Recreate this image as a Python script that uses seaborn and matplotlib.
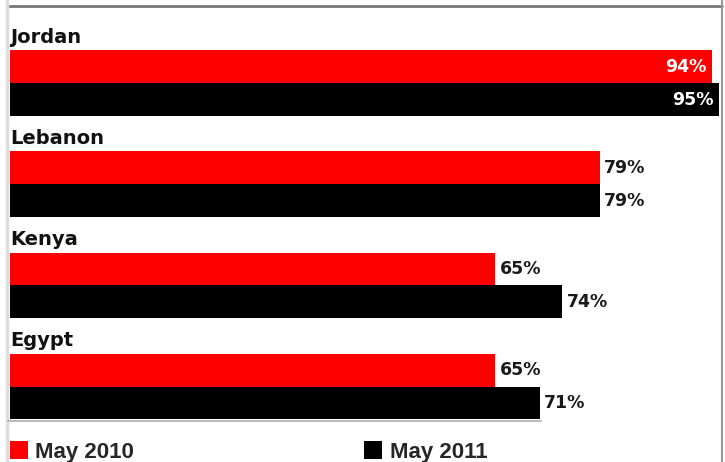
import pandas as pd
import matplotlib.pyplot as plt
import matplotlib.lines as mlines
import seaborn as sns

# Dados
paises = ['Jordan', 'Lebanon', 'Kenya', 'Egypt']
anos = ['May 2010', 'May 2011']
maio_2010 = [94, 79, 65, 65]
maio_2011 = [95, 79, 74, 71]

dados = pd.DataFrame({
    'Pais': paises * 2,
    'Ano': [anos[0]] * 4 + [anos[1]] * 4,
    'Valor': maio_2010 + maio_2011,
})

sns.set_style('white')
plt.rcParams['font.family'] = ['DejaVu Sans']

fig = plt.figure(figsize=(7.25, 4.62), dpi=100)
W, H = 725, 462
ax = fig.add_axes([10 / W, 1 - 420 / H, 710 / W, 414 / H])

sns.barplot(data=dados, y='Pais', x='Valor', hue='Ano', orient='h',
            palette=['#ff0000', '#000000'], saturation=1, width=0.65,
            ax=ax, linewidth=0)

ax.set_xlim(0, 95.1)
ax.set_ylim(3.33, -0.762)
ax.set_xlabel('')
ax.set_ylabel('')
ax.set_xticks([])
ax.set_yticks([])
sns.despine(ax=ax, left=True, bottom=True)

# Nomes dos países acima de cada grupo
for i, p in enumerate(paises):
    ax.text(0, i - 0.325 - 0.075, p, fontsize=14, fontweight='bold',
            ha='left', va='baseline', color='#111111')

# Rótulos de valor
for cont in ax.containers:
    anns = ax.bar_label(cont, fmt='%d%%', padding=3, fontsize=12.5,
                        fontweight='bold', color='#1a1a1a')
    # Jordan fica dentro da barra
    anns[0].xyann = (-4, 0)
    anns[0].set_ha('right')
    anns[0].set_color('white')

# Legenda
sns.move_legend(ax, 'upper left', bbox_to_anchor=(10 / W, 1 - 441 / H),
                bbox_transform=fig.transFigure, ncol=2, frameon=False,
                title=None, borderpad=0, borderaxespad=0,
                handlelength=0.82, handleheight=0.9, handletextpad=0.32,
                columnspacing=10.35,
                prop={'family': 'Liberation Sans', 'weight': 'bold', 'size': 16})

# Bordas
fig.add_artist(mlines.Line2D([8 / W, 722 / W], [1 - 6 / H, 1 - 6 / H],
                             color='#777777', lw=2))
fig.add_artist(mlines.Line2D([7 / W, 7 / W], [0, 1], color='#dddddd', lw=2.5))
fig.add_artist(mlines.Line2D([722 / W, 722 / W], [0, 1], color='#999999', lw=1.5))
fig.add_artist(mlines.Line2D([8 / W, 541 / W], [1 - 421 / H, 1 - 421 / H],
                             color='#bbbbbb', lw=1.5))

plt.savefig('out.png', dpi=100)
